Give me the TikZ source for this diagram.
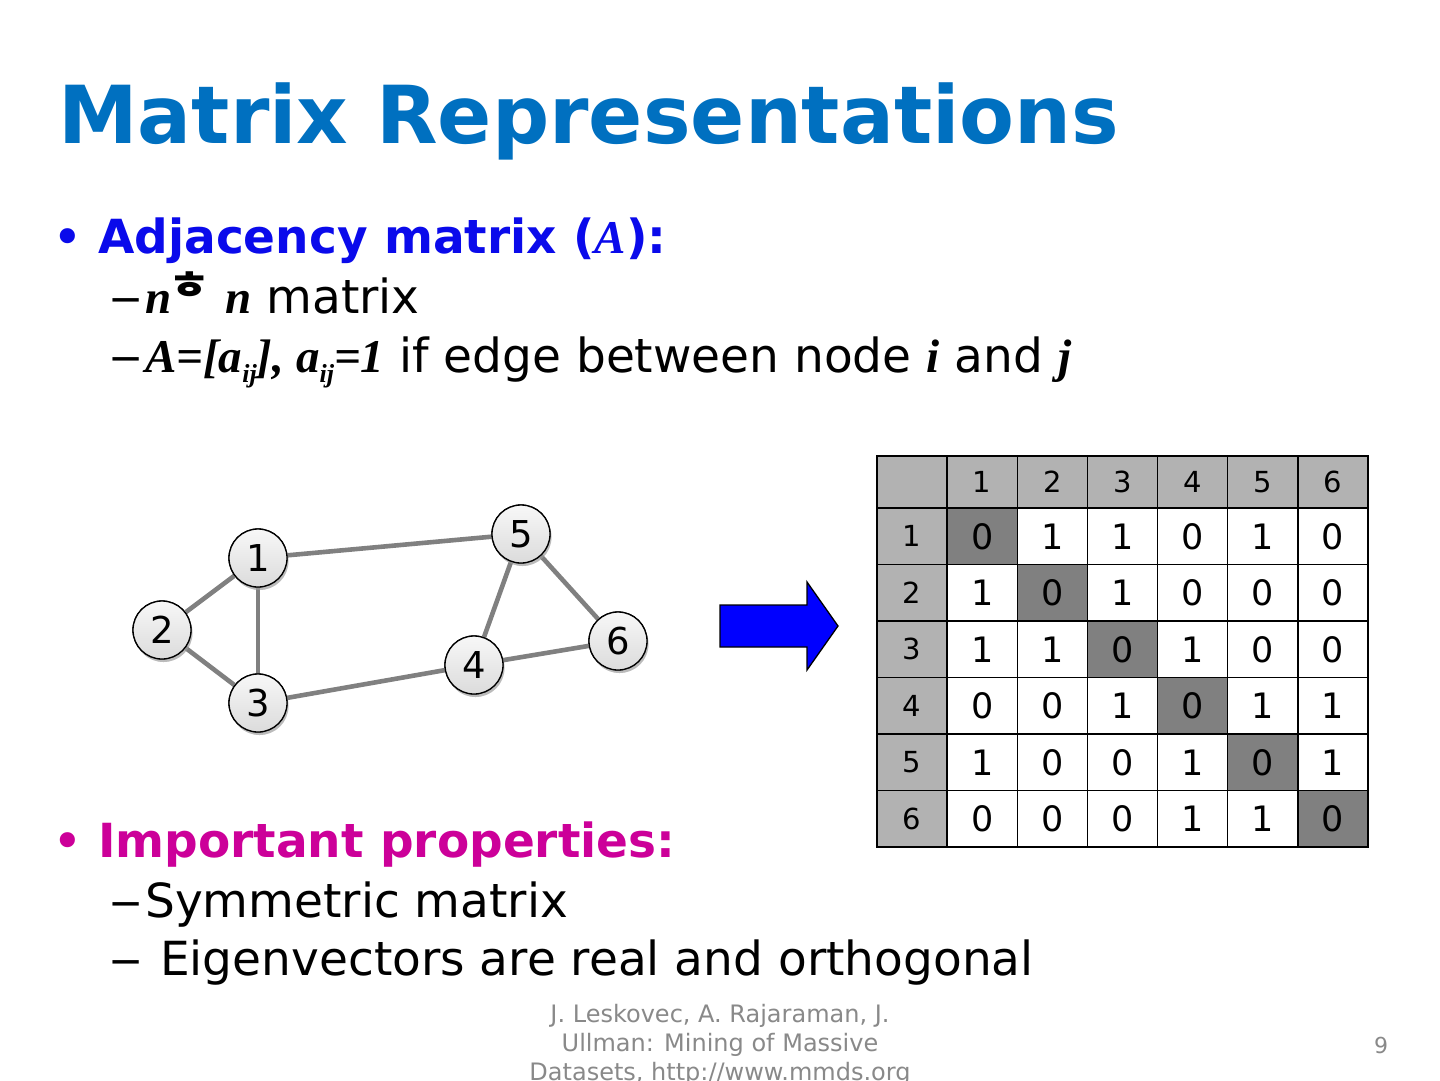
\documentclass[tikz,border=0pt]{standalone}
\usepackage{fontspec}
\setmainfont{DejaVu Sans}
\newfontfamily\timesbi{Liberation Serif}
\newfontfamily\hangul{Noto Sans CJK KR}
\usetikzlibrary{positioning,shadows}
\definecolor{titleblue}{RGB}{0,112,192}
\definecolor{adjblue}{RGB}{10,10,235}
\definecolor{propmagenta}{RGB}{204,0,153}
\definecolor{edgegray}{RGB}{128,128,128}
\definecolor{headgray}{RGB}{178,178,178}
\definecolor{diaggray}{RGB}{128,128,128}
\definecolor{footgray}{RGB}{137,137,137}
\newcommand{\mi}[1]{{\timesbi\bfseries\itshape #1}}
\newcommand{\sub}[1]{\raisebox{-0.22em}{\fontsize{26}{26}\selectfont #1}}
\tikzset{
  txt/.style={anchor=base west, inner sep=0pt},
  vertex/.style={circle, draw=black, line width=1.3pt, minimum size=58pt, inner sep=0pt,
    top color=gray!6, bottom color=gray!28,
    drop shadow={shadow xshift=1.5pt, shadow yshift=-3pt, fill=gray!70},
    font=\fontsize{37}{37}\selectfont},
  link/.style={edgegray, line width=4.6pt},
  cell/.style={draw=black, line width=1.5pt, minimum width=70.14pt, minimum height=56.5pt,
    inner sep=0pt, font=\fontsize{35}{35}\selectfont},
  headcell/.style={cell, fill=headgray, font=\fontsize{29}{29}\selectfont}
}
\begin{document}
\begin{tikzpicture}[x=1pt,y=-1pt]
  \useasboundingbox[fill=white](0,0) rectangle (1440,1080);
  \clip (0,0) rectangle (1440,1080);
  % title
  \node[txt, titleblue] (title) at (58,143) {\fontsize{80}{80}\selectfont\bfseries Matrix Representations};
  % bullets
  \node[txt, adjblue] (dot1) at (52,255) {\fontsize{52}{52}\selectfont •};
  \node[txt, adjblue] (adj) at (98,253) {\fontsize{47}{47}\selectfont\bfseries Adjacency matrix (\mi{A}):};
  \node[txt] (dash1) at (108,313) {\fontsize{42}{42}\selectfont −};
  \node[txt] (nn) at (145,313) {\fontsize{47}{47}\selectfont\mi{n}\hspace{-0.05em}\raisebox{14pt}{\hangul\bfseries\fontsize{40}{40}\selectfont\scalebox{1.15}[0.95]{ㅎ}}\hspace{0.3em}\mi{n} matrix};
  \node[txt] (dash2) at (108,372) {\fontsize{42}{42}\selectfont −};
  \node[txt] (aij) at (145,372) {\fontsize{47}{47}\selectfont\mi{A=[a\sub{ij}], a\sub{ij}=1} if edge between node \mi{i} and \mi{j}};
  \node[txt, propmagenta] (dot2) at (52,859) {\fontsize{52}{52}\selectfont •};
  \node[txt, propmagenta] (prop) at (98,857) {\fontsize{47}{47}\selectfont\bfseries Important properties:};
  \node[txt] (dash3) at (108,917) {\fontsize{42}{42}\selectfont −};
  \node[txt] (sym) at (145,917) {\fontsize{47}{47}\selectfont Symmetric matrix};
  \node[txt] (dash4) at (108,975) {\fontsize{42}{42}\selectfont −};
  \node[txt] (eig) at (160,975) {\fontsize{47}{47}\selectfont Eigenvectors are real and orthogonal};
  % graph
  \node[vertex] (v1) at (258,558) {1};
  \node[vertex] (v2) at (162,630) {2};
  \node[vertex] (v3) at (258,703) {3};
  \node[vertex] (v4) at (474,665) {4};
  \node[vertex] (v5) at (521,534) {5};
  \node[vertex] (v6) at (618,641) {6};
  \foreach \a/\b in {1/2,1/3,2/3,1/5,3/4,4/5,5/6,4/6}
    \draw[link] (v\a) -- (v\b);
  \foreach \k in {1,...,6}
    \node[vertex] at (v\k) {\k};
  % arrow
  \draw[fill=blue, line width=1.3pt, line join=miter]
    (720,605) -- (807,605) -- (807,582) -- (838,626) -- (807,670) -- (807,647) -- (720,647) -- cycle;
  % matrix
  \node[headcell, minimum height=52pt] (m-0-0) at (912.07,482) {};
  \foreach \c in {1,...,6}
    \node[headcell, minimum height=52pt] (m-0-\c) at (912.07+70.14*\c,482) {\c};
  \foreach \r/\row in {1/{0,1,1,0,1,0},2/{1,0,1,0,0,0},3/{1,1,0,1,0,0},
                       4/{0,0,1,0,1,1},5/{1,0,0,1,0,1},6/{0,0,0,1,1,0}}{
    \node[headcell] (m-\r-0) at (912.07,479.75+56.5*\r) {\r};
    \foreach \v [count=\c] in \row{
      \ifnum\c=\r
        \node[cell, fill=diaggray] (m-\r-\c) at (912.07+70.14*\c,479.75+56.5*\r) {\v};
      \else
        \node[cell, fill=white] (m-\r-\c) at (912.07+70.14*\c,479.75+56.5*\r) {\v};
      \fi
    }
  }
  % footer
  \node[align=center, footgray, font=\fontsize{24}{29}\selectfont, anchor=north] (foot) at (720,1001)
    {J. Leskovec, A. Rajaraman, J.\\Ullman: Mining of Massive\\Datasets, http://www.mmds.org};
  \node[txt, footgray] (page) at (1374,1053) {\fontsize{22}{22}\selectfont 9};
\end{tikzpicture}
\end{document}
